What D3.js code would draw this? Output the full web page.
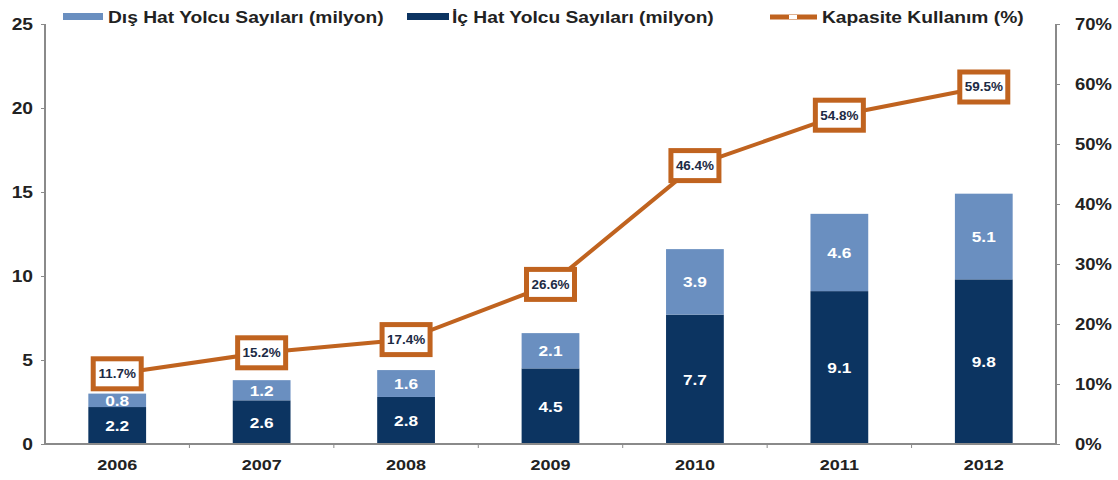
<!DOCTYPE html>
<html><head><meta charset="utf-8">
<script src="https://cdn.jsdelivr.net/npm/d3@7"></script>
<style>
body{margin:0;background:#fff;}
text{font-family:"Liberation Sans",Arial,sans-serif;font-weight:bold;}
</style></head>
<body><svg id="c" width="1118" height="480"></svg>
<script>
const years = ["2006","2007","2008","2009","2010","2011","2012"];
const domestic = [2.2, 2.6, 2.8, 4.5, 7.7, 9.1, 9.8];
const international = [0.8, 1.2, 1.6, 2.1, 3.9, 4.6, 5.1];
const capacity = [11.7, 15.2, 17.4, 26.6, 46.4, 54.8, 59.5];
const leftTicks = [0, 5, 10, 15, 20, 25];
const rightTicks = [0, 10, 20, 30, 40, 50, 60, 70];
const seriesNames = ["Dış Hat Yolcu Sayıları (milyon)", "İç Hat Yolcu Sayıları (milyon)", "Kapasite Kullanım (%)"];

const colDark = "#0c3461", colLight = "#6a8fc0", colLine = "#c0631f", colAxis = "#8a8a8a";
const svg = d3.select("#c");
const L = 45, R = 1056, T = 24, B = 444;

// widen text horizontally (reference typography is wide)
function stretch(sel, f) {
  sel.each(function () {
    const w = this.getComputedTextLength();
    d3.select(this).attr("textLength", w * f).attr("lengthAdjust", "spacingAndGlyphs");
  });
}

const x = d3.scaleBand().domain(years).range([L, R]).paddingInner(0.6).paddingOuter(0.3);
const xb = d3.scaleBand().domain(years).range([L, R]);
const y = d3.scaleLinear().domain([0, 25]).range([B, T]);
const y2 = d3.scaleLinear().domain([0, 70]).range([B, T]);

// bars
const g = svg.append("g");
years.forEach((yr, i) => {
  const d = domestic[i], n = international[i];
  g.append("rect").attr("x", x(yr)).attr("width", x.bandwidth())
    .attr("y", y(d)).attr("height", y(0) - y(d)).attr("fill", colDark);
  g.append("rect").attr("x", x(yr)).attr("width", x.bandwidth())
    .attr("y", y(d + n)).attr("height", y(d) - y(d + n)).attr("fill", colLight);
  g.append("text").attr("class","bl").attr("x", x(yr) + x.bandwidth()/2).attr("y", (y(0)+y(d))/2)
    .attr("dy", "0.36em").attr("text-anchor","middle").attr("fill","#fff")
    .style("font-size","15px").text(d.toFixed(1));
  g.append("text").attr("class","bl").attr("x", x(yr) + x.bandwidth()/2).attr("y", (y(d)+y(d+n))/2)
    .attr("dy", "0.36em").attr("text-anchor","middle").attr("fill","#fff")
    .style("font-size","15px").text(n.toFixed(1));
});
stretch(g.selectAll("text.bl"), 1.15);

// axes
const ax = svg.append("g").attr("transform", `translate(${L},0)`)
  .call(d3.axisLeft(y).tickValues(leftTicks).tickSize(4).tickPadding(8));
const ax2 = svg.append("g").attr("transform", `translate(${R},0)`)
  .call(d3.axisRight(y2).tickValues(rightTicks).tickSize(4).tickFormat(d => d + "%").tickPadding(15));
const axb = svg.append("g").attr("transform", `translate(0,${B})`)
  .call(d3.axisBottom(xb).tickSize(0).tickPadding(15));
// boundary ticks on x axis
svg.append("g").selectAll("line").data(years.slice(1)).join("line")
  .attr("x1", d => xb(d)).attr("x2", d => xb(d)).attr("y1", B).attr("y2", B + 4)
  .attr("stroke", colAxis).attr("stroke-width", 1);
[ax, ax2, axb].forEach(a => {
  a.select(".domain").attr("stroke", colAxis).attr("stroke-width", 2);
  a.selectAll(".tick line").attr("stroke", colAxis);
  a.selectAll(".tick text").attr("fill", "#222").style("font-size", "16px");
});
ax.select(".domain").attr("d", `M0,${T}V${B}`);
ax2.select(".domain").attr("d", `M0,${T}V${B}`);
axb.select(".domain").attr("d", `M${L},0H${R}`);
axb.selectAll(".tick text").style("font-size","15px");
stretch(ax.selectAll(".tick text"), 1.2);
stretch(ax2.selectAll(".tick text"), 1.15);
stretch(axb.selectAll(".tick text"), 1.2);

// line
const line = d3.line().x((d, i) => xb(years[i]) + xb.bandwidth()/2).y(d => y2(d));
svg.append("path").datum(capacity).attr("d", line).attr("fill","none")
  .attr("stroke", colLine).attr("stroke-width", 4);
const mk = svg.append("g").selectAll("g").data(capacity).join("g")
  .attr("transform", (d, i) => `translate(${xb(years[i]) + xb.bandwidth()/2},${y2(d)})`);
mk.append("rect").attr("x", -24).attr("y", -15).attr("width", 48).attr("height", 30)
  .attr("fill", "#fff").attr("stroke", colLine).attr("stroke-width", 5);
const mt = mk.append("text").attr("text-anchor","middle").attr("dy","0.36em").attr("fill","#1c2a44")
  .style("font-size","12px").text(d => d.toFixed(1) + "%");
stretch(mt, 1.12);

// legend
const lg = svg.append("g");
lg.append("rect").attr("x", 63).attr("y", 13).attr("width", 40).attr("height", 7).attr("fill", colLight);
const l1 = lg.append("text").attr("x", 108).attr("y", 17).attr("dy","0.36em").attr("fill","#222").style("font-size","16px").text(seriesNames[0]);
lg.append("rect").attr("x", 407).attr("y", 13).attr("width", 42).attr("height", 7).attr("fill", colDark);
const l2 = lg.append("text").attr("x", 452).attr("y", 17).attr("dy","0.36em").attr("fill","#222").style("font-size","16px").text(seriesNames[1]);
lg.append("line").attr("x1", 770).attr("x2", 817).attr("y1", 17).attr("y2", 17).attr("stroke", colLine).attr("stroke-width", 5);
lg.append("rect").attr("x", 789).attr("y", 15).attr("width", 8).attr("height", 4).attr("fill", "#fff");
const l3 = lg.append("text").attr("x", 822).attr("y", 17).attr("dy","0.36em").attr("fill","#222").style("font-size","16px").text(seriesNames[2]);
stretch(lg.selectAll("text"), 1.2);
</script></body></html>
